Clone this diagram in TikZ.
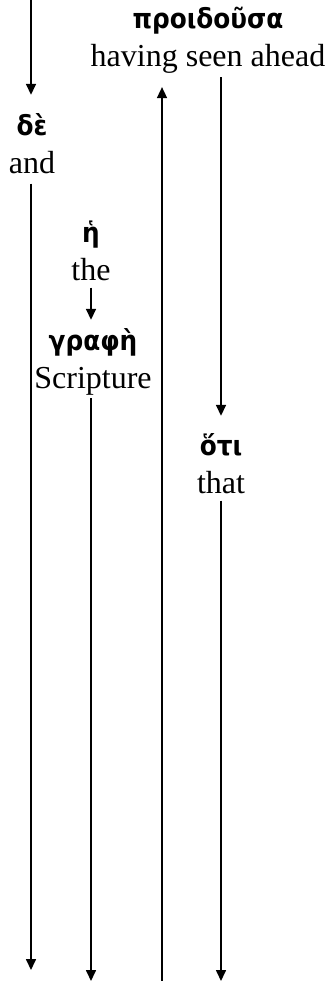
\documentclass[tikz,border=0pt]{standalone}
\usepackage{fontspec}
\setmainfont{Liberation Serif}
\newfontfamily\gkfont{DejaVu Sans Condensed}
\newcommand\gkw[1]{{\gkfont\bfseries\fontsize{27.5}{38}\selectfont #1}}
\usetikzlibrary{arrows.meta}
\begin{document}
\begin{tikzpicture}[x=1pt,y=-1pt,
  word/.style={align=center, inner sep=0pt, anchor=base, font=\fontsize{32}{38}\selectfont},
  arr/.style={line width=1.6pt, -{Triangle[width=10pt,length=11pt]}},
  ln/.style={line width=1.6pt}]
\useasboundingbox (0,0) rectangle (328,981);
% nodes (anchored on the English baseline)
\node[word] (head)   at (208,67)  {\gkw{προιδοῦσα}\\having seen ahead};
\node[word] (de)     at (32,174)  {\gkw{δὲ}\\and};
\node[word] (he)     at (91,280)  {\gkw{ἡ}\\the};
\node[word] (graphe) at (93,388)  {\gkw{γραφὴ}\\Scripture};
\node[word] (hoti)   at (221,493) {\gkw{ὅτι}\\that};
% free ends
\coordinate (t1) at (31,0);
\coordinate (b1) at (31,970);
\coordinate (b2) at (91,981);
\coordinate (b3) at (162,981);
\coordinate (b4) at (221,981);
% connectors
\draw[arr, shorten >=19pt] (t1) -- (t1 |- de.north);
\draw[arr, shorten <=9pt] (b1 |- de.south) -- (b1);
\draw[arr, shorten <=7pt, shorten >=8pt] (he.south) -- (graphe.north -| he);
\draw[arr, shorten <=3pt] (b2 |- graphe.south) -- (b2);
\draw[arr, shorten >=13pt] (b3) -- (b3 |- head.south);
\draw[arr, shorten <=3pt, shorten >=17pt] (head.south -| hoti) -- (hoti.north);
\draw[arr, shorten <=7pt] (hoti.south) -- (b4);
\end{tikzpicture}
\end{document}
